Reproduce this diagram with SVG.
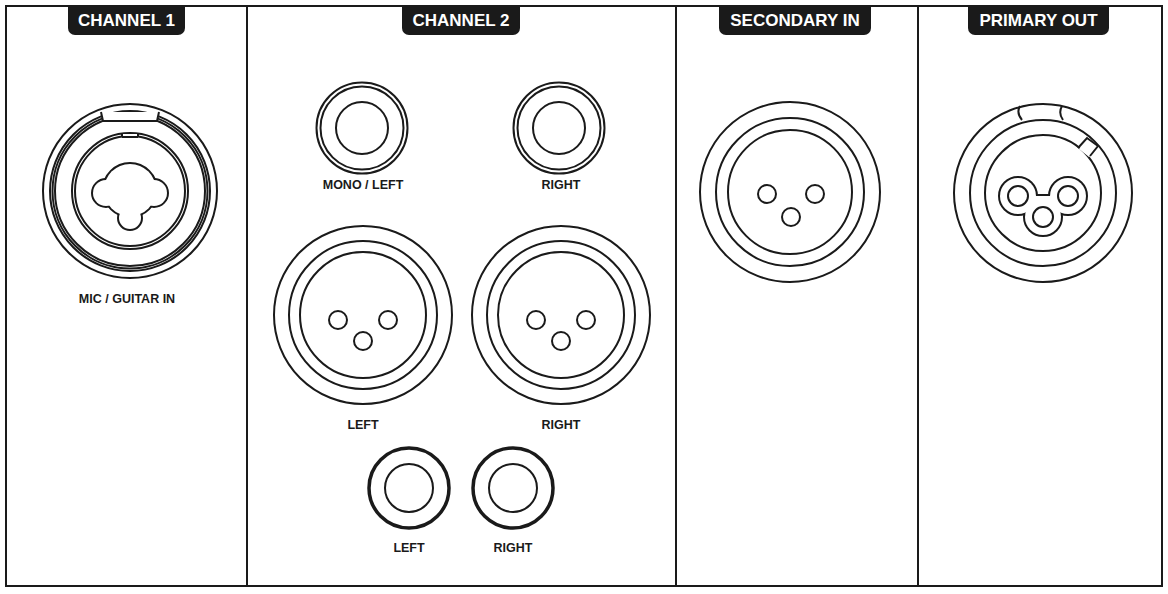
<svg xmlns="http://www.w3.org/2000/svg" width="1168" height="594" viewBox="0 0 1168 594">
<style>
.l{fill:none;stroke:#1a1a1a;stroke-width:2}
.t{fill:none;stroke:#1a1a1a;stroke-width:3.5}
.tab{fill:#1a1a1a}
.h{font-family:"Liberation Sans",Arial,sans-serif;font-weight:bold;font-size:17px;fill:#fff;text-anchor:middle}
.lb{font-family:"Liberation Sans",Arial,sans-serif;font-weight:bold;font-size:12.5px;fill:#1a1a1a;text-anchor:middle}
.w{fill:#fff;stroke:none}
.o{fill:#fff;stroke:#1a1a1a;stroke-width:4}
</style>
<rect width="1168" height="594" fill="#fff"/>
<g id="frame" class="l">
<rect x="6" y="6" width="1156" height="580"/>
<line x1="247" y1="6" x2="247" y2="586"/>
<line x1="676" y1="6" x2="676" y2="586"/>
<line x1="918" y1="6" x2="918" y2="586"/>
</g>
<g id="headers">
<path class="tab" d="M68 6H185V28a7 7 0 0 1-7 7H75a7 7 0 0 1-7-7Z"/><text class="h" x="126.5" y="26">CHANNEL 1</text>
<path class="tab" d="M402 6H520V28a7 7 0 0 1-7 7H409a7 7 0 0 1-7-7Z"/><text class="h" x="461" y="26">CHANNEL 2</text>
<path class="tab" d="M719 6H871V28a7 7 0 0 1-7 7H726a7 7 0 0 1-7-7Z"/><text class="h" x="795" y="26">SECONDARY IN</text>
<path class="tab" d="M968 6H1109V28a7 7 0 0 1-7 7H975a7 7 0 0 1-7-7Z"/><text class="h" x="1038.5" y="26">PRIMARY OUT</text>
</g>
<g id="combo">
<circle class="l" cx="130" cy="191" r="87"/>
<circle class="l" cx="130" cy="191" r="80"/>
<circle class="l" cx="130" cy="191" r="77.5"/>
<circle class="l" cx="130" cy="191" r="75"/>
<path class="l" d="M101 112L103 121H157L159 112" style="fill:#fff"/>
<circle class="l" cx="130" cy="191" r="58"/>
<circle class="l" cx="130" cy="191" r="55"/>
<path d="M122 134H138V137H122Z" fill="#fff"/>
<path class="l" d="M122 133V137M138 133V137M122 137H138"/>
<circle class="o" cx="130" cy="190" r="26"/><circle class="o" cx="106" cy="193" r="13"/><circle class="o" cx="154" cy="193" r="13"/><circle class="o" cx="130" cy="218" r="11"/>
<circle class="w" cx="130" cy="190" r="26"/><circle class="w" cx="106" cy="193" r="13"/><circle class="w" cx="154" cy="193" r="13"/><circle class="w" cx="130" cy="218" r="11"/>
<text class="lb" x="127" y="303">MIC / GUITAR IN</text>
</g>
<g id="ch2-jack-ml">
<circle class="l" cx="362" cy="128" r="45.5"/><circle class="l" cx="362" cy="128" r="41.5"/><circle class="l" cx="362" cy="128" r="26"/>
<text class="lb" x="363" y="189">MONO / LEFT</text>
</g>
<g id="ch2-jack-r">
<circle class="l" cx="559" cy="128" r="45.5"/><circle class="l" cx="559" cy="128" r="41.5"/><circle class="l" cx="559" cy="128" r="26"/>
<text class="lb" x="561" y="189">RIGHT</text>
</g>
<g id="ch2-xlr-l">
<circle class="l" cx="363" cy="315" r="89"/><circle class="l" cx="363" cy="315" r="74"/><circle class="l" cx="363" cy="315" r="63"/>
<circle class="l" cx="338" cy="320" r="9"/><circle class="l" cx="388" cy="320" r="9"/><circle class="l" cx="363" cy="341" r="9"/>
<text class="lb" x="363" y="429">LEFT</text>
</g>
<g id="ch2-xlr-r">
<circle class="l" cx="561" cy="315" r="89"/><circle class="l" cx="561" cy="315" r="74"/><circle class="l" cx="561" cy="315" r="63"/>
<circle class="l" cx="536" cy="320" r="9"/><circle class="l" cx="586" cy="320" r="9"/><circle class="l" cx="561" cy="341" r="9"/>
<text class="lb" x="561" y="429">RIGHT</text>
</g>
<g id="ch2-small-l">
<circle class="t" cx="409" cy="488" r="40"/><circle class="l" cx="409" cy="488" r="24"/>
<text class="lb" x="409" y="552">LEFT</text>
</g>
<g id="ch2-small-r">
<circle class="t" cx="513" cy="488" r="40"/><circle class="l" cx="513" cy="488" r="24"/>
<text class="lb" x="513" y="552">RIGHT</text>
</g>
<g id="secondary-in">
<circle class="l" cx="790" cy="192" r="90"/><circle class="l" cx="790" cy="192" r="74"/><circle class="l" cx="790" cy="192" r="62"/>
<circle class="l" cx="767" cy="194" r="9"/><circle class="l" cx="815" cy="194" r="9"/><circle class="l" cx="791" cy="217" r="9"/>
</g>
<g id="primary-out">
<circle class="l" cx="1043" cy="193" r="89"/><circle class="l" cx="1043" cy="193" r="73"/><circle class="l" cx="1043" cy="193" r="58"/>
<path class="l" d="M1020 106Q1016 113 1022 120M1062 106Q1058 113 1063 120"/>
<path d="M1079 149L1088 137L1098 146L1089 157Z" class="w"/>
<path class="l" d="M1078 148L1087 138L1098 146L1090 156"/>
<circle class="o" cx="1018" cy="196" r="18"/><circle class="o" cx="1068" cy="196" r="18"/><circle class="o" cx="1043" cy="217" r="18"/>
<rect class="o" x="1025" y="196" width="36" height="10"/>
<circle class="w" cx="1018" cy="196" r="18"/><circle class="w" cx="1068" cy="196" r="18"/><circle class="w" cx="1043" cy="217" r="18"/>
<rect class="w" x="1025" y="196" width="36" height="10"/>
<circle class="l" cx="1018" cy="196" r="10"/><circle class="l" cx="1068" cy="196" r="10"/><circle class="l" cx="1043" cy="217" r="10"/>
</g>
</svg>
